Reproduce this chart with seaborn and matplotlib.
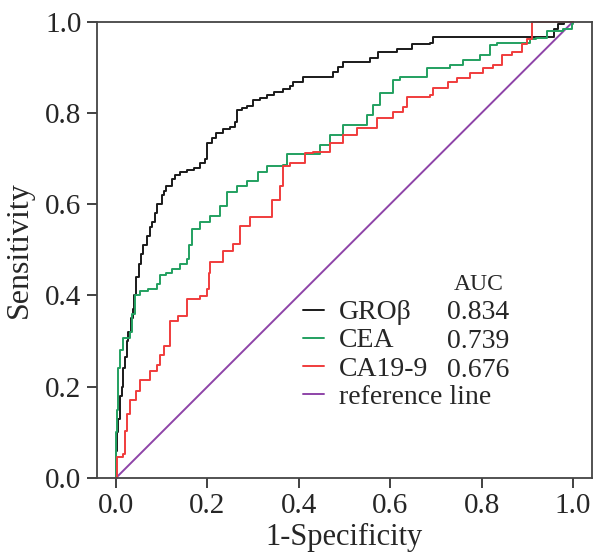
import pandas as pd
import matplotlib
matplotlib.use('Agg')
import matplotlib.pyplot as plt
import seaborn as sns

# kurva ROC
gro_x = [0, 0, 0.002, 0.004, 0.009, 0.013, 0.016, 0.02, 0.024, 0.027, 0.033, 0.038, 0.04, 0.045,
         0.05, 0.055, 0.06, 0.068, 0.074, 0.08, 0.085, 0.09, 0.1, 0.105, 0.11, 0.122, 0.13, 0.14,
         0.155, 0.17, 0.184, 0.195, 0.199, 0.2, 0.21, 0.22, 0.235, 0.25, 0.26, 0.264, 0.275, 0.286,
         0.3, 0.315, 0.33, 0.345, 0.366, 0.38, 0.388, 0.41, 0.468, 0.475, 0.485, 0.497, 0.556, 0.573,
         0.615, 0.648, 0.687, 0.694, 0.956, 0.958, 0.967, 0.98, 1.0]
gro_y = [0, 0.06, 0.10, 0.13, 0.18, 0.20, 0.24, 0.265, 0.30, 0.32, 0.35, 0.37, 0.40, 0.44,
         0.47, 0.49, 0.51, 0.53, 0.55, 0.56, 0.58, 0.60, 0.62, 0.63, 0.64, 0.655, 0.665, 0.67,
         0.675, 0.68, 0.69, 0.70, 0.715, 0.735, 0.745, 0.756, 0.765, 0.77, 0.78, 0.806, 0.81, 0.815,
         0.828, 0.832, 0.84, 0.845, 0.853, 0.86, 0.867, 0.878, 0.878, 0.89, 0.90, 0.911, 0.92, 0.933,
         0.941, 0.952, 0.954, 0.967, 0.967, 0.985, 0.996, 1.0, 1.0]

cea_x = [0, 0, 0.003, 0.005, 0.01, 0.016, 0.03, 0.035, 0.042, 0.052, 0.07, 0.09, 0.096, 0.11,
         0.122, 0.14, 0.155, 0.16, 0.166, 0.184, 0.206, 0.228, 0.243, 0.265, 0.286, 0.31, 0.33,
         0.366, 0.374, 0.403, 0.446, 0.468, 0.497, 0.519, 0.549, 0.562, 0.578, 0.606, 0.621, 0.665,
         0.68, 0.724, 0.731, 0.76, 0.797, 0.818, 0.833, 0.906, 0.92, 0.943, 0.978, 0.998, 1.0]
cea_y = [0, 0.10, 0.15, 0.24, 0.28, 0.306, 0.32, 0.36, 0.40, 0.41, 0.415, 0.426, 0.444, 0.45,
         0.459, 0.47, 0.48, 0.51, 0.546, 0.561, 0.574, 0.596, 0.626, 0.64, 0.651, 0.67, 0.683,
         0.687, 0.709, 0.709, 0.73, 0.752, 0.774, 0.774, 0.796, 0.817, 0.843, 0.872, 0.878, 0.878,
         0.898, 0.898, 0.904, 0.915, 0.926, 0.948, 0.954, 0.963, 0.965, 0.98, 0.985, 0.996, 1.0]

ca_x = [0, 0.002, 0.016, 0.02, 0.025, 0.03, 0.045, 0.052, 0.074, 0.09, 0.096, 0.105, 0.118, 0.118,
        0.136, 0.155, 0.184, 0.199, 0.203, 0.206, 0.234, 0.256, 0.271, 0.293, 0.337, 0.341, 0.359,
        0.366, 0.381, 0.403, 0.414, 0.431, 0.468, 0.497, 0.527, 0.571, 0.606, 0.628, 0.637, 0.687,
        0.694, 0.724, 0.727, 0.746, 0.775, 0.803, 0.825, 0.845, 0.867, 0.888, 0.9, 0.91, 0.91, 1.0]
ca_y = [0, 0.046, 0.052, 0.104, 0.14, 0.17, 0.191, 0.215, 0.235, 0.248, 0.27, 0.29, 0.307, 0.343,
        0.354, 0.393, 0.398, 0.415, 0.45, 0.474, 0.498, 0.513, 0.552, 0.572, 0.572, 0.61, 0.64,
        0.683, 0.691, 0.691, 0.713, 0.715, 0.735, 0.752, 0.767, 0.789, 0.802, 0.813, 0.835, 0.839,
        0.854, 0.854, 0.867, 0.876, 0.887, 0.898, 0.904, 0.926, 0.933, 0.952, 0.963, 0.97, 1.0, 1.0]

ref_x = [0, 1]
ref_y = [0, 1]

names = ['GROβ', 'CEA', 'CA19-9', 'reference line']
auc = [0.834, 0.739, 0.676]
warna = ['#1a1a1a', '#22a060', '#f03c3c', '#8e44a8']
ticks = [0, 0.2, 0.4, 0.6, 0.8, 1.0]

data = pd.concat([
    pd.DataFrame({'x': gro_x, 'y': gro_y, 'marker': names[0]}),
    pd.DataFrame({'x': cea_x, 'y': cea_y, 'marker': names[1]}),
    pd.DataFrame({'x': ca_x, 'y': ca_y, 'marker': names[2]}),
])
ref = pd.DataFrame({'x': ref_x, 'y': ref_y})

sns.set_style('ticks')
plt.rcParams['font.family'] = ['Liberation Serif', 'DejaVu Serif']

fig = plt.figure(figsize=(6, 5.59), dpi=100)
ax = fig.add_axes([0.1612, 0.1449, 0.825, 0.8163])

sns.lineplot(data=ref, x='x', y='y', color=warna[3], lw=1.4, ax=ax)
sns.lineplot(data=data, x='x', y='y', hue='marker', palette=warna[:3], sort=False,
             estimator=None, drawstyle='steps-post', lw=1.4, legend=False, ax=ax, clip_on=False)

garis = ax.get_lines()
handles = [garis[1], garis[2], garis[3], garis[0]]
ax.legend(handles, names, loc='upper left', bbox_to_anchor=(0.388, 0.421), frameon=False,
          fontsize=20, handlelength=0.75, handletextpad=0.55, labelspacing=0.1, borderpad=0)

ax.text(0.771, 0.423, 'AUC', transform=ax.transAxes, ha='center', va='center', fontsize=17)
for i, a in enumerate(auc):
    ax.text(0.771, 0.362 - i * 0.063, f'{a:.3f}', transform=ax.transAxes,
            ha='center', va='center', fontsize=20)

ax.set_xlim(-0.042, 1.041)
ax.set_ylim(0, 1.0)
ax.set_xticks(ticks)
ax.set_yticks(ticks)
ax.set_xticklabels([f'{t:.1f}' for t in ticks])
ax.set_yticklabels([f'{t:.1f}' for t in ticks])
ax.tick_params(labelsize=21, length=7, width=1.3, pad=4, color='#333333')
ax.set_xlabel('1-Specificity', fontsize=22, labelpad=3)
ax.set_ylabel('Sensitivity', fontsize=23, labelpad=8)
for s in ax.spines.values():
    s.set_linewidth(1.3)
    s.set_color('#444444')

fig.savefig('out.png', dpi=100)
